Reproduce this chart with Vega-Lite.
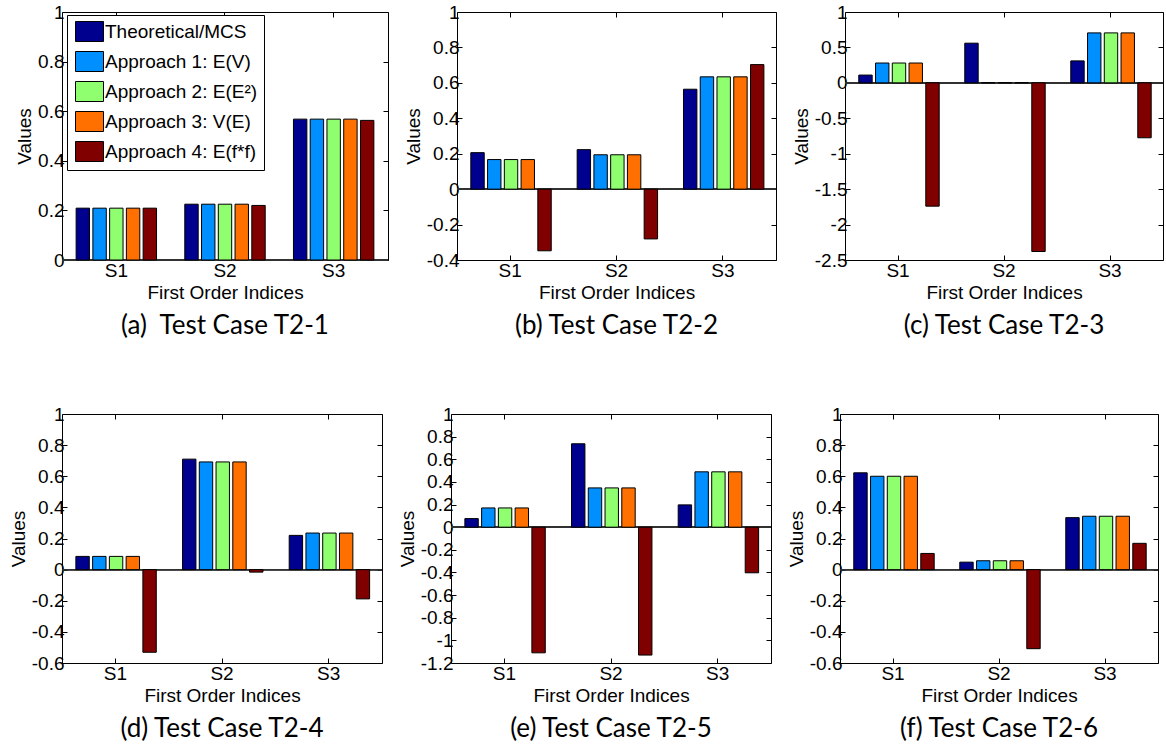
{
  "$schema": "https://vega.github.io/schema/vega-lite/v6.json",
  "padding": {"left": 8, "top": 2, "right": 0, "bottom": 0},
  "background": "white",
  "data": {
    "values": [
      {"panel": "a", "idx": "S1", "method": "Theoretical/MCS", "value": 0.209},
      {"panel": "a", "idx": "S1", "method": "Approach 1: E(V)", "value": 0.209},
      {"panel": "a", "idx": "S1", "method": "Approach 2: E(E²)", "value": 0.209},
      {"panel": "a", "idx": "S1", "method": "Approach 3: V(E)", "value": 0.209},
      {"panel": "a", "idx": "S1", "method": "Approach 4: E(f*f)", "value": 0.209},
      {"panel": "a", "idx": "S2", "method": "Theoretical/MCS", "value": 0.225},
      {"panel": "a", "idx": "S2", "method": "Approach 1: E(V)", "value": 0.225},
      {"panel": "a", "idx": "S2", "method": "Approach 2: E(E²)", "value": 0.225},
      {"panel": "a", "idx": "S2", "method": "Approach 3: V(E)", "value": 0.225},
      {"panel": "a", "idx": "S2", "method": "Approach 4: E(f*f)", "value": 0.22},
      {"panel": "a", "idx": "S3", "method": "Theoretical/MCS", "value": 0.568},
      {"panel": "a", "idx": "S3", "method": "Approach 1: E(V)", "value": 0.568},
      {"panel": "a", "idx": "S3", "method": "Approach 2: E(E²)", "value": 0.568},
      {"panel": "a", "idx": "S3", "method": "Approach 3: V(E)", "value": 0.568},
      {"panel": "a", "idx": "S3", "method": "Approach 4: E(f*f)", "value": 0.563},

      {"panel": "b", "idx": "S1", "method": "Theoretical/MCS", "value": 0.206},
      {"panel": "b", "idx": "S1", "method": "Approach 1: E(V)", "value": 0.167},
      {"panel": "b", "idx": "S1", "method": "Approach 2: E(E²)", "value": 0.167},
      {"panel": "b", "idx": "S1", "method": "Approach 3: V(E)", "value": 0.167},
      {"panel": "b", "idx": "S1", "method": "Approach 4: E(f*f)", "value": -0.348},
      {"panel": "b", "idx": "S2", "method": "Theoretical/MCS", "value": 0.223},
      {"panel": "b", "idx": "S2", "method": "Approach 1: E(V)", "value": 0.194},
      {"panel": "b", "idx": "S2", "method": "Approach 2: E(E²)", "value": 0.194},
      {"panel": "b", "idx": "S2", "method": "Approach 3: V(E)", "value": 0.194},
      {"panel": "b", "idx": "S2", "method": "Approach 4: E(f*f)", "value": -0.281},
      {"panel": "b", "idx": "S3", "method": "Theoretical/MCS", "value": 0.564},
      {"panel": "b", "idx": "S3", "method": "Approach 1: E(V)", "value": 0.634},
      {"panel": "b", "idx": "S3", "method": "Approach 2: E(E²)", "value": 0.634},
      {"panel": "b", "idx": "S3", "method": "Approach 3: V(E)", "value": 0.634},
      {"panel": "b", "idx": "S3", "method": "Approach 4: E(f*f)", "value": 0.703},

      {"panel": "c", "idx": "S1", "method": "Theoretical/MCS", "value": 0.11},
      {"panel": "c", "idx": "S1", "method": "Approach 1: E(V)", "value": 0.28},
      {"panel": "c", "idx": "S1", "method": "Approach 2: E(E²)", "value": 0.28},
      {"panel": "c", "idx": "S1", "method": "Approach 3: V(E)", "value": 0.28},
      {"panel": "c", "idx": "S1", "method": "Approach 4: E(f*f)", "value": -1.74},
      {"panel": "c", "idx": "S2", "method": "Theoretical/MCS", "value": 0.56},
      {"panel": "c", "idx": "S2", "method": "Approach 1: E(V)", "value": 0.003},
      {"panel": "c", "idx": "S2", "method": "Approach 2: E(E²)", "value": 0.003},
      {"panel": "c", "idx": "S2", "method": "Approach 3: V(E)", "value": 0.003},
      {"panel": "c", "idx": "S2", "method": "Approach 4: E(f*f)", "value": -2.38},
      {"panel": "c", "idx": "S3", "method": "Theoretical/MCS", "value": 0.31},
      {"panel": "c", "idx": "S3", "method": "Approach 1: E(V)", "value": 0.705},
      {"panel": "c", "idx": "S3", "method": "Approach 2: E(E²)", "value": 0.705},
      {"panel": "c", "idx": "S3", "method": "Approach 3: V(E)", "value": 0.705},
      {"panel": "c", "idx": "S3", "method": "Approach 4: E(f*f)", "value": -0.775},

      {"panel": "d", "idx": "S1", "method": "Theoretical/MCS", "value": 0.085},
      {"panel": "d", "idx": "S1", "method": "Approach 1: E(V)", "value": 0.085},
      {"panel": "d", "idx": "S1", "method": "Approach 2: E(E²)", "value": 0.085},
      {"panel": "d", "idx": "S1", "method": "Approach 3: V(E)", "value": 0.085},
      {"panel": "d", "idx": "S1", "method": "Approach 4: E(f*f)", "value": -0.531},
      {"panel": "d", "idx": "S2", "method": "Theoretical/MCS", "value": 0.71},
      {"panel": "d", "idx": "S2", "method": "Approach 1: E(V)", "value": 0.692},
      {"panel": "d", "idx": "S2", "method": "Approach 2: E(E²)", "value": 0.692},
      {"panel": "d", "idx": "S2", "method": "Approach 3: V(E)", "value": 0.692},
      {"panel": "d", "idx": "S2", "method": "Approach 4: E(f*f)", "value": -0.016},
      {"panel": "d", "idx": "S3", "method": "Theoretical/MCS", "value": 0.22},
      {"panel": "d", "idx": "S3", "method": "Approach 1: E(V)", "value": 0.235},
      {"panel": "d", "idx": "S3", "method": "Approach 2: E(E²)", "value": 0.235},
      {"panel": "d", "idx": "S3", "method": "Approach 3: V(E)", "value": 0.235},
      {"panel": "d", "idx": "S3", "method": "Approach 4: E(f*f)", "value": -0.188},

      {"panel": "e", "idx": "S1", "method": "Theoretical/MCS", "value": 0.076},
      {"panel": "e", "idx": "S1", "method": "Approach 1: E(V)", "value": 0.17},
      {"panel": "e", "idx": "S1", "method": "Approach 2: E(E²)", "value": 0.17},
      {"panel": "e", "idx": "S1", "method": "Approach 3: V(E)", "value": 0.17},
      {"panel": "e", "idx": "S1", "method": "Approach 4: E(f*f)", "value": -1.11},
      {"panel": "e", "idx": "S2", "method": "Theoretical/MCS", "value": 0.737},
      {"panel": "e", "idx": "S2", "method": "Approach 1: E(V)", "value": 0.347},
      {"panel": "e", "idx": "S2", "method": "Approach 2: E(E²)", "value": 0.347},
      {"panel": "e", "idx": "S2", "method": "Approach 3: V(E)", "value": 0.347},
      {"panel": "e", "idx": "S2", "method": "Approach 4: E(f*f)", "value": -1.13},
      {"panel": "e", "idx": "S3", "method": "Theoretical/MCS", "value": 0.197},
      {"panel": "e", "idx": "S3", "method": "Approach 1: E(V)", "value": 0.489},
      {"panel": "e", "idx": "S3", "method": "Approach 2: E(E²)", "value": 0.489},
      {"panel": "e", "idx": "S3", "method": "Approach 3: V(E)", "value": 0.489},
      {"panel": "e", "idx": "S3", "method": "Approach 4: E(f*f)", "value": -0.403},

      {"panel": "f", "idx": "S1", "method": "Theoretical/MCS", "value": 0.622},
      {"panel": "f", "idx": "S1", "method": "Approach 1: E(V)", "value": 0.6},
      {"panel": "f", "idx": "S1", "method": "Approach 2: E(E²)", "value": 0.6},
      {"panel": "f", "idx": "S1", "method": "Approach 3: V(E)", "value": 0.6},
      {"panel": "f", "idx": "S1", "method": "Approach 4: E(f*f)", "value": 0.104},
      {"panel": "f", "idx": "S2", "method": "Theoretical/MCS", "value": 0.048},
      {"panel": "f", "idx": "S2", "method": "Approach 1: E(V)", "value": 0.057},
      {"panel": "f", "idx": "S2", "method": "Approach 2: E(E²)", "value": 0.057},
      {"panel": "f", "idx": "S2", "method": "Approach 3: V(E)", "value": 0.057},
      {"panel": "f", "idx": "S2", "method": "Approach 4: E(f*f)", "value": -0.508},
      {"panel": "f", "idx": "S3", "method": "Theoretical/MCS", "value": 0.334},
      {"panel": "f", "idx": "S3", "method": "Approach 1: E(V)", "value": 0.343},
      {"panel": "f", "idx": "S3", "method": "Approach 2: E(E²)", "value": 0.343},
      {"panel": "f", "idx": "S3", "method": "Approach 3: V(E)", "value": 0.343},
      {"panel": "f", "idx": "S3", "method": "Approach 4: E(f*f)", "value": 0.169}
    ]
  },
  "spacing": 64,
  "resolve": {"scale": {"fill": "independent"}, "legend": {"fill": "independent"}},
  "vconcat": [
    {
      "hconcat": [
        {
          "width": 326, "height": 248,
          "title": {"text": "(a)\u00a0 Test Case T2-1"},
          "transform": [{"filter": "datum.panel == 'a'"}],
          "layer": [
            {"mark": {"type": "rule", "color": "#333333", "strokeWidth": 1},
             "encoding": {"y": {"datum": 0, "type": "quantitative", "axis": {"orient": "right", "labels": false, "title": null, "values": [0, 0.2, 0.4, 0.6, 0.8, 1]}}}},
            {"mark": {"type": "bar", "stroke": "black", "strokeWidth": 1},
             "encoding": {
               "x": {"field": "idx", "type": "nominal", "scale": {"paddingInner": 0.26, "paddingOuter": 0.13}, "axis": {"title": "First Order Indices", "labelAngle": 0}},
               "xOffset": {"field": "method", "type": "nominal", "sort": ["Theoretical/MCS", "Approach 1: E(V)", "Approach 2: E(E²)", "Approach 3: V(E)", "Approach 4: E(f*f)"], "scale": {"paddingInner": 0.2, "paddingOuter": 0}},
               "y": {"field": "value", "type": "quantitative", "scale": {"domain": [0, 1], "nice": false, "zero": false}, "axis": {"title": "Values", "values": [0, 0.2, 0.4, 0.6, 0.8, 1]}},
               "fill": {"field": "method", "type": "nominal",
                 "scale": {"domain": ["Theoretical/MCS", "Approach 1: E(V)", "Approach 2: E(E²)", "Approach 3: V(E)", "Approach 4: E(f*f)"], "range": ["#00008F", "#008FFF", "#8FFF70", "#FF7000", "#800000"]},
                 "legend": {"orient": "none", "legendX": 5, "legendY": 3, "title": null,
                   "symbolType": "M-1.4,-1H1.4V1H-1.4Z", "symbolSize": 400, "symbolStrokeColor": "black", "symbolStrokeWidth": 1, "symbolOffset": 6,
                   "labelFont": "Liberation Sans", "labelFontSize": 19, "labelColor": "black", "labelOffset": 5, "labelLimit": 400,
                   "strokeColor": "black", "fillColor": "white", "padding": 6, "rowPadding": 5}}
             }},
            {"mark": {"type": "bar", "opacity": 0},
             "encoding": {"x": {"field": "idx", "type": "nominal", "axis": {"orient": "top", "labels": false, "title": null}}}}
          ],
          "resolve": {"axis": {"x": "independent", "y": "independent"}}
        },
        {
          "width": 319, "height": 248,
          "title": {"text": "(b) Test Case T2-2"},
          "transform": [{"filter": "datum.panel == 'b'"}],
          "layer": [
            {"mark": {"type": "rule", "color": "#333333", "strokeWidth": 1},
             "encoding": {"y": {"datum": 0, "type": "quantitative", "axis": {"orient": "right", "labels": false, "title": null, "values": [-0.4, -0.2, 0, 0.2, 0.4, 0.6, 0.8, 1]}}}},
            {"mark": {"type": "bar", "stroke": "black", "strokeWidth": 1},
             "encoding": {
               "x": {"field": "idx", "type": "nominal", "scale": {"paddingInner": 0.26, "paddingOuter": 0.13}, "axis": {"title": "First Order Indices", "labelAngle": 0}},
               "xOffset": {"field": "method", "type": "nominal", "sort": ["Theoretical/MCS", "Approach 1: E(V)", "Approach 2: E(E²)", "Approach 3: V(E)", "Approach 4: E(f*f)"], "scale": {"paddingInner": 0.2, "paddingOuter": 0}},
               "y": {"field": "value", "type": "quantitative", "scale": {"domain": [-0.4, 1], "nice": false, "zero": false}, "axis": {"title": "Values", "values": [-0.4, -0.2, 0, 0.2, 0.4, 0.6, 0.8, 1]}},
               "fill": {"field": "method", "type": "nominal",
                 "scale": {"domain": ["Theoretical/MCS", "Approach 1: E(V)", "Approach 2: E(E²)", "Approach 3: V(E)", "Approach 4: E(f*f)"], "range": ["#00008F", "#008FFF", "#8FFF70", "#FF7000", "#800000"]},
                 "legend": null}
             }},
            {"mark": {"type": "bar", "opacity": 0},
             "encoding": {"x": {"field": "idx", "type": "nominal", "axis": {"orient": "top", "labels": false, "title": null}}}}
          ],
          "resolve": {"axis": {"x": "independent", "y": "independent"}}
        },
        {
          "width": 318, "height": 248,
          "title": {"text": "(c) Test Case T2-3"},
          "transform": [{"filter": "datum.panel == 'c'"}],
          "layer": [
            {"mark": {"type": "rule", "color": "#333333", "strokeWidth": 1},
             "encoding": {"y": {"datum": 0, "type": "quantitative", "axis": {"orient": "right", "labels": false, "title": null, "values": [-2.5, -2, -1.5, -1, -0.5, 0, 0.5, 1]}}}},
            {"mark": {"type": "bar", "stroke": "black", "strokeWidth": 1},
             "encoding": {
               "x": {"field": "idx", "type": "nominal", "scale": {"paddingInner": 0.26, "paddingOuter": 0.13}, "axis": {"title": "First Order Indices", "labelAngle": 0}},
               "xOffset": {"field": "method", "type": "nominal", "sort": ["Theoretical/MCS", "Approach 1: E(V)", "Approach 2: E(E²)", "Approach 3: V(E)", "Approach 4: E(f*f)"], "scale": {"paddingInner": 0.2, "paddingOuter": 0}},
               "y": {"field": "value", "type": "quantitative", "scale": {"domain": [-2.5, 1], "nice": false, "zero": false}, "axis": {"title": "Values", "values": [-2.5, -2, -1.5, -1, -0.5, 0, 0.5, 1]}},
               "fill": {"field": "method", "type": "nominal",
                 "scale": {"domain": ["Theoretical/MCS", "Approach 1: E(V)", "Approach 2: E(E²)", "Approach 3: V(E)", "Approach 4: E(f*f)"], "range": ["#00008F", "#008FFF", "#8FFF70", "#FF7000", "#800000"]},
                 "legend": null}
             }},
            {"mark": {"type": "bar", "opacity": 0},
             "encoding": {"x": {"field": "idx", "type": "nominal", "axis": {"orient": "top", "labels": false, "title": null}}}}
          ],
          "resolve": {"axis": {"x": "independent", "y": "independent"}}
        }
      ],
      "spacing": 69,
      "bounds": "flush",
      "resolve": {"scale": {"fill": "independent"}, "legend": {"fill": "independent"}}
    },
    {
      "hconcat": [
        {
          "width": 320, "height": 249,
          "title": {"text": "(d) Test Case T2-4"},
          "transform": [{"filter": "datum.panel == 'd'"}],
          "layer": [
            {"mark": {"type": "rule", "color": "#333333", "strokeWidth": 1},
             "encoding": {"y": {"datum": 0, "type": "quantitative", "axis": {"orient": "right", "labels": false, "title": null, "values": [-0.6, -0.4, -0.2, 0, 0.2, 0.4, 0.6, 0.8, 1]}}}},
            {"mark": {"type": "bar", "stroke": "black", "strokeWidth": 1},
             "encoding": {
               "x": {"field": "idx", "type": "nominal", "scale": {"paddingInner": 0.26, "paddingOuter": 0.13}, "axis": {"title": "First Order Indices", "labelAngle": 0}},
               "xOffset": {"field": "method", "type": "nominal", "sort": ["Theoretical/MCS", "Approach 1: E(V)", "Approach 2: E(E²)", "Approach 3: V(E)", "Approach 4: E(f*f)"], "scale": {"paddingInner": 0.2, "paddingOuter": 0}},
               "y": {"field": "value", "type": "quantitative", "scale": {"domain": [-0.6, 1], "nice": false, "zero": false}, "axis": {"title": "Values", "values": [-0.6, -0.4, -0.2, 0, 0.2, 0.4, 0.6, 0.8, 1]}},
               "fill": {"field": "method", "type": "nominal",
                 "scale": {"domain": ["Theoretical/MCS", "Approach 1: E(V)", "Approach 2: E(E²)", "Approach 3: V(E)", "Approach 4: E(f*f)"], "range": ["#00008F", "#008FFF", "#8FFF70", "#FF7000", "#800000"]},
                 "legend": null}
             }},
            {"mark": {"type": "bar", "opacity": 0},
             "encoding": {"x": {"field": "idx", "type": "nominal", "axis": {"orient": "top", "labels": false, "title": null}}}}
          ],
          "resolve": {"axis": {"x": "independent", "y": "independent"}}
        },
        {
          "width": 320, "height": 249,
          "title": {"text": "(e) Test Case T2-5"},
          "transform": [{"filter": "datum.panel == 'e'"}],
          "layer": [
            {"mark": {"type": "rule", "color": "#333333", "strokeWidth": 1},
             "encoding": {"y": {"datum": 0, "type": "quantitative", "axis": {"orient": "right", "labels": false, "title": null, "values": [-1.2, -1, -0.8, -0.6, -0.4, -0.2, 0, 0.2, 0.4, 0.6, 0.8, 1]}}}},
            {"mark": {"type": "bar", "stroke": "black", "strokeWidth": 1},
             "encoding": {
               "x": {"field": "idx", "type": "nominal", "scale": {"paddingInner": 0.26, "paddingOuter": 0.13}, "axis": {"title": "First Order Indices", "labelAngle": 0}},
               "xOffset": {"field": "method", "type": "nominal", "sort": ["Theoretical/MCS", "Approach 1: E(V)", "Approach 2: E(E²)", "Approach 3: V(E)", "Approach 4: E(f*f)"], "scale": {"paddingInner": 0.2, "paddingOuter": 0}},
               "y": {"field": "value", "type": "quantitative", "scale": {"domain": [-1.2, 1], "nice": false, "zero": false}, "axis": {"title": "Values", "values": [-1.2, -1, -0.8, -0.6, -0.4, -0.2, 0, 0.2, 0.4, 0.6, 0.8, 1]}},
               "fill": {"field": "method", "type": "nominal",
                 "scale": {"domain": ["Theoretical/MCS", "Approach 1: E(V)", "Approach 2: E(E²)", "Approach 3: V(E)", "Approach 4: E(f*f)"], "range": ["#00008F", "#008FFF", "#8FFF70", "#FF7000", "#800000"]},
                 "legend": null}
             }},
            {"mark": {"type": "bar", "opacity": 0},
             "encoding": {"x": {"field": "idx", "type": "nominal", "axis": {"orient": "top", "labels": false, "title": null}}}}
          ],
          "resolve": {"axis": {"x": "independent", "y": "independent"}}
        },
        {
          "width": 318, "height": 249,
          "title": {"text": "(f) Test Case T2-6"},
          "transform": [{"filter": "datum.panel == 'f'"}],
          "layer": [
            {"mark": {"type": "rule", "color": "#333333", "strokeWidth": 1},
             "encoding": {"y": {"datum": 0, "type": "quantitative", "axis": {"orient": "right", "labels": false, "title": null, "values": [-0.6, -0.4, -0.2, 0, 0.2, 0.4, 0.6, 0.8, 1]}}}},
            {"mark": {"type": "bar", "stroke": "black", "strokeWidth": 1},
             "encoding": {
               "x": {"field": "idx", "type": "nominal", "scale": {"paddingInner": 0.26, "paddingOuter": 0.13}, "axis": {"title": "First Order Indices", "labelAngle": 0}},
               "xOffset": {"field": "method", "type": "nominal", "sort": ["Theoretical/MCS", "Approach 1: E(V)", "Approach 2: E(E²)", "Approach 3: V(E)", "Approach 4: E(f*f)"], "scale": {"paddingInner": 0.2, "paddingOuter": 0}},
               "y": {"field": "value", "type": "quantitative", "scale": {"domain": [-0.6, 1], "nice": false, "zero": false}, "axis": {"title": "Values", "values": [-0.6, -0.4, -0.2, 0, 0.2, 0.4, 0.6, 0.8, 1]}},
               "fill": {"field": "method", "type": "nominal",
                 "scale": {"domain": ["Theoretical/MCS", "Approach 1: E(V)", "Approach 2: E(E²)", "Approach 3: V(E)", "Approach 4: E(f*f)"], "range": ["#00008F", "#008FFF", "#8FFF70", "#FF7000", "#800000"]},
                 "legend": null}
             }},
            {"mark": {"type": "bar", "opacity": 0},
             "encoding": {"x": {"field": "idx", "type": "nominal", "axis": {"orient": "top", "labels": false, "title": null}}}}
          ],
          "resolve": {"axis": {"x": "independent", "y": "independent"}}
        }
      ],
      "spacing": 69,
      "bounds": "flush",
      "resolve": {"scale": {"fill": "independent"}, "legend": {"fill": "independent"}}
    }
  ],
  "config": {
    "view": {"stroke": "black", "strokeWidth": 1},
    "axis": {
      "domain": false, "grid": false,
      "tickColor": "black", "tickSize": -5, "tickWidth": 1,
      "labelFont": "Liberation Sans", "labelFontSize": 19, "labelColor": "black", "labelPadding": 3,
      "titleFont": "Liberation Sans", "titleFontSize": 19, "titleFontWeight": "normal", "titleColor": "black", "titlePadding": 3,
      "format": "~g",
      "labelExpr": "replace(datum.label, '\u2212', '-')"
    },
    "axisX": {"labelPadding": 6},
    "axisBand": {"format": null, "labelExpr": "datum.label"},
    "title": {"orient": "bottom", "font": "Lato", "fontSize": 26, "fontWeight": "normal", "color": "black", "offset": 11, "anchor": "middle"}
  }
}
